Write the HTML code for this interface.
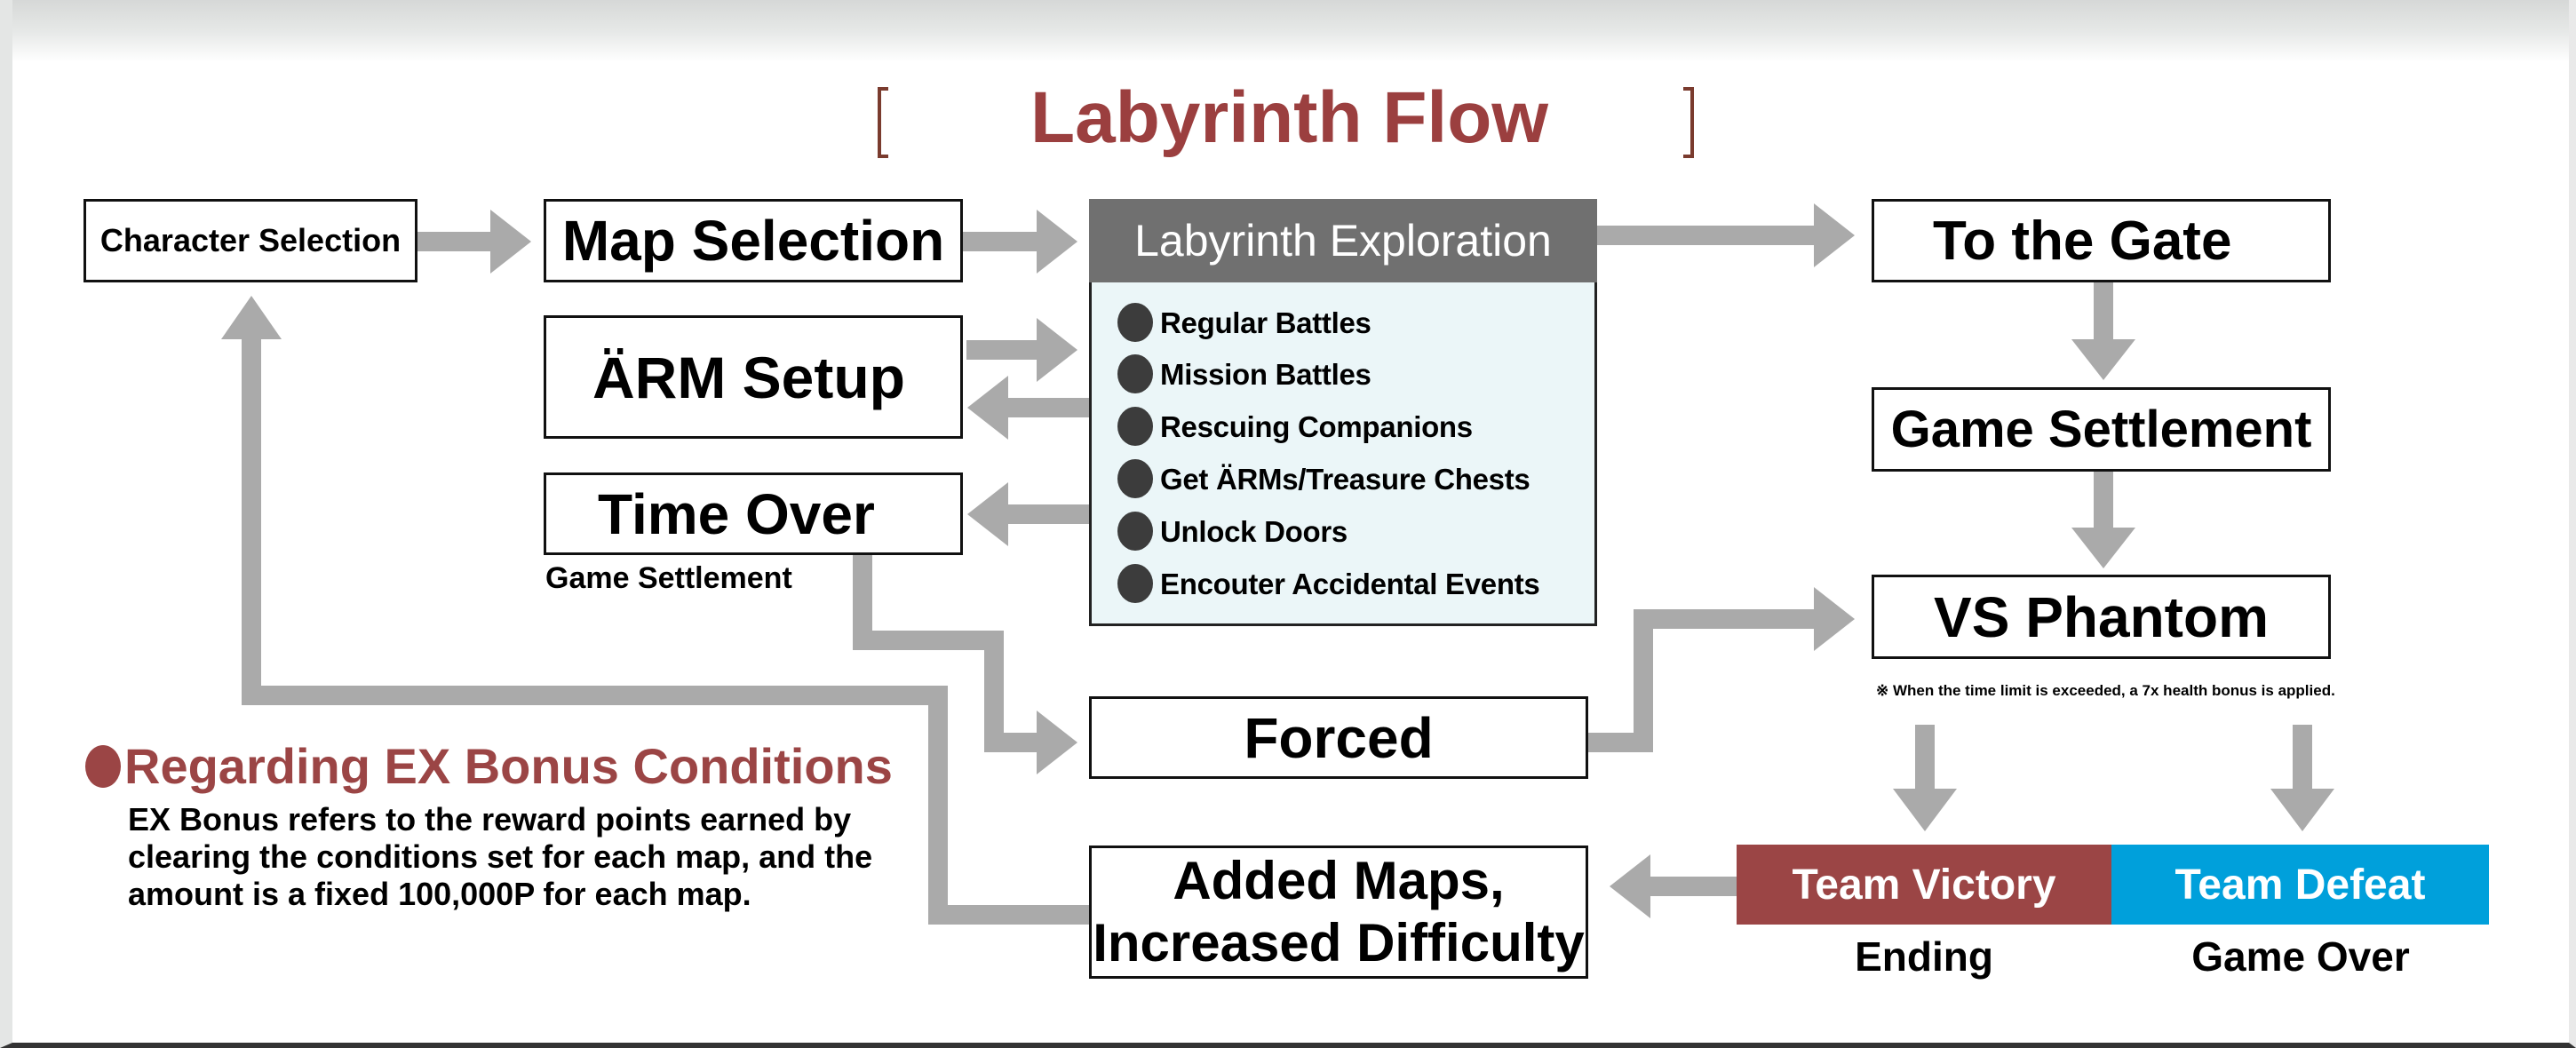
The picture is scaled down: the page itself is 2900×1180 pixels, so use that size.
<!DOCTYPE html>
<html><head><meta charset="utf-8"><style>
html,body{margin:0;padding:0}
body{width:2900px;height:1180px;position:relative;overflow:hidden;background:#fff;font-family:"Liberation Sans",sans-serif}
.frame{position:absolute;left:0;top:0;width:2900px;height:1180px;box-sizing:border-box;border-left:14px solid #e4e6e5;border-right:8px solid #e9e9e9;border-bottom:6px solid #333}
.topg{position:absolute;left:0;top:0;width:2900px;height:70px;background:linear-gradient(#d6d8d7,#e6e8e7 50%,#fff)}
.b{position:absolute;box-sizing:border-box;border:3px solid #111;background:#fff;font-weight:bold;color:#000;display:flex;align-items:center;justify-content:center;white-space:nowrap}
.n{font-family:"Liberation Sans Narrow","Liberation Sans",sans-serif}
.t{position:absolute;white-space:nowrap;font-weight:bold}
svg{position:absolute;left:0;top:0}
.item{position:absolute;left:1258px;font-weight:bold;font-size:33px;letter-spacing:-0.3px;white-space:nowrap;line-height:40px}
.item i{display:inline-block;width:40px;height:44px;border-radius:50%;background:#3c3c3c;vertical-align:middle;margin-right:8px;position:relative;top:-3px}
</style></head><body>
<div class="topg"></div>
<div class="frame"></div>
<svg width="2900" height="1180" viewBox="0 0 2900 1180">
<g fill="none" stroke="#aaaaaa" stroke-width="22" stroke-linejoin="miter">
<line x1="468" y1="272" x2="560" y2="272"/>
<line x1="1084" y1="272" x2="1175" y2="272"/>
<line x1="1798" y1="265" x2="2050" y2="265"/>
<line x1="1088" y1="394" x2="1175" y2="394"/>
<line x1="1226" y1="459" x2="1125" y2="459"/>
<line x1="1226" y1="579" x2="1125" y2="579"/>
<line x1="2368" y1="318" x2="2368" y2="390"/>
<line x1="2368" y1="531" x2="2368" y2="602"/>
<line x1="2167" y1="816" x2="2167" y2="896"/>
<line x1="2592" y1="816" x2="2592" y2="896"/>
<line x1="1955" y1="998" x2="1850" y2="998"/>
<polyline points="971,625 971,721 1119,721 1119,836 1175,836"/>
<polyline points="1788,836 1850,836 1850,697 2050,697"/>
<polyline points="1226,1030 1056,1030 1056,783 283,783 283,375"/>
</g>
<g fill="#aaaaaa">
<polygon points="552,236 598,272 552,308"/>
<polygon points="1167,236 1213,272 1167,308"/>
<polygon points="2042,229 2088,265 2042,301"/>
<polygon points="1167,358 1213,394 1167,430"/>
<polygon points="1135,423 1089,459 1135,495"/>
<polygon points="1135,543 1089,579 1135,615"/>
<polygon points="1167,800 1213,836 1167,872"/>
<polygon points="2042,661 2088,697 2042,733"/>
<polygon points="2332,382 2368,428 2404,382"/>
<polygon points="2332,594 2368,640 2404,594"/>
<polygon points="2131,888 2167,936 2203,888"/>
<polygon points="2556,888 2592,936 2628,888"/>
<polygon points="1858,962 1812,998 1858,1034"/>
<polygon points="249,382 283,333 317,382"/>
</g>
<g fill="none" stroke="#7a3b2e" stroke-width="4">
<polyline points="1000,100 990,100 990,176 1000,176"/>
<polyline points="1895,100 1905,100 1905,176 1895,176"/>
</g>
</svg>
<div class="t n" style="left:1160px;top:78px;width:580px;text-align:center;font-size:82px;color:#9b3f3f;line-height:110px">Labyrinth Flow</div>

<div class="b n" style="left:94px;top:224px;width:376px;height:94px;font-size:36px">Character Selection</div>
<div class="b n" style="left:612px;top:224px;width:472px;height:94px;font-size:64px">Map Selection</div>
<div class="b n" style="left:612px;top:355px;width:472px;height:139px;font-size:66px;justify-content:flex-start;padding-left:52px">ÄRM Setup</div>
<div class="b n" style="left:612px;top:532px;width:472px;height:93px;font-size:64px;justify-content:flex-start;padding-left:58px">Time Over</div>
<div class="t n" style="left:614px;top:632px;font-size:34px">Game Settlement</div>

<div style="position:absolute;left:1226px;top:224px;width:572px;height:94px;background:#707070;color:#fff;font-size:50px;display:flex;align-items:center;justify-content:center;font-family:'Liberation Sans Narrow','Liberation Sans',sans-serif">Labyrinth Exploration</div>
<div style="position:absolute;left:1226px;top:318px;width:572px;height:387px;box-sizing:border-box;border:3px solid #222;border-top:none;background:#ebf6f8"></div>
<div class="item" style="top:344px"><i></i>Regular Battles</div>
<div class="item" style="top:402px"><i></i>Mission Battles</div>
<div class="item" style="top:461px"><i></i>Rescuing Companions</div>
<div class="item" style="top:520px"><i></i>Get ÄRMs/Treasure Chests</div>
<div class="item" style="top:579px"><i></i>Unlock Doors</div>
<div class="item" style="top:638px"><i></i>Encouter Accidental Events</div>

<div class="b n" style="left:2107px;top:224px;width:517px;height:94px;font-size:62px;justify-content:flex-start;padding-left:66px">To the Gate</div>
<div class="b n" style="left:2107px;top:436px;width:517px;height:95px;font-size:58px">Game Settlement</div>
<div class="b n" style="left:2107px;top:647px;width:517px;height:95px;font-size:64px">VS Phantom</div>
<div class="t n" style="left:2112px;top:768px;font-size:17px">※ When the time limit is exceeded, a 7x health bonus is applied.</div>

<div class="b n" style="left:1226px;top:784px;width:562px;height:93px;font-size:64px">Forced</div>
<div class="b n" style="left:1226px;top:952px;width:562px;height:150px;font-size:60px;line-height:70px;text-align:center;white-space:normal">Added Maps,<br>Increased Difficulty</div>

<div style="position:absolute;left:1955px;top:951px;width:422px;height:90px;background:#9b4545;color:#fff;font-weight:bold;font-size:48px;display:flex;align-items:center;justify-content:center;font-family:'Liberation Sans Narrow','Liberation Sans',sans-serif">Team Victory</div>
<div style="position:absolute;left:2377px;top:951px;width:425px;height:90px;background:#00a0db;color:#fff;font-weight:bold;font-size:48px;display:flex;align-items:center;justify-content:center;font-family:'Liberation Sans Narrow','Liberation Sans',sans-serif">Team Defeat</div>
<div class="t n" style="left:1966px;top:1050px;width:400px;text-align:center;font-size:46px">Ending</div>
<div class="t n" style="left:2390px;top:1050px;width:400px;text-align:center;font-size:46px">Game Over</div>

<div class="t n" style="left:96px;top:830px;font-size:56px;color:#9b4545"><span style="display:inline-block;width:40px;height:48px;border-radius:50%;background:#9b4545;vertical-align:middle;margin-right:4px;position:relative;top:-4px"></span>Regarding EX Bonus Conditions</div>
<div class="t n" style="left:144px;top:902px;font-size:36px;line-height:42px">EX Bonus refers to the reward points earned by<br>clearing the conditions set for each map, and the<br>amount is a fixed 100,000P for each map.</div>
</body></html>
